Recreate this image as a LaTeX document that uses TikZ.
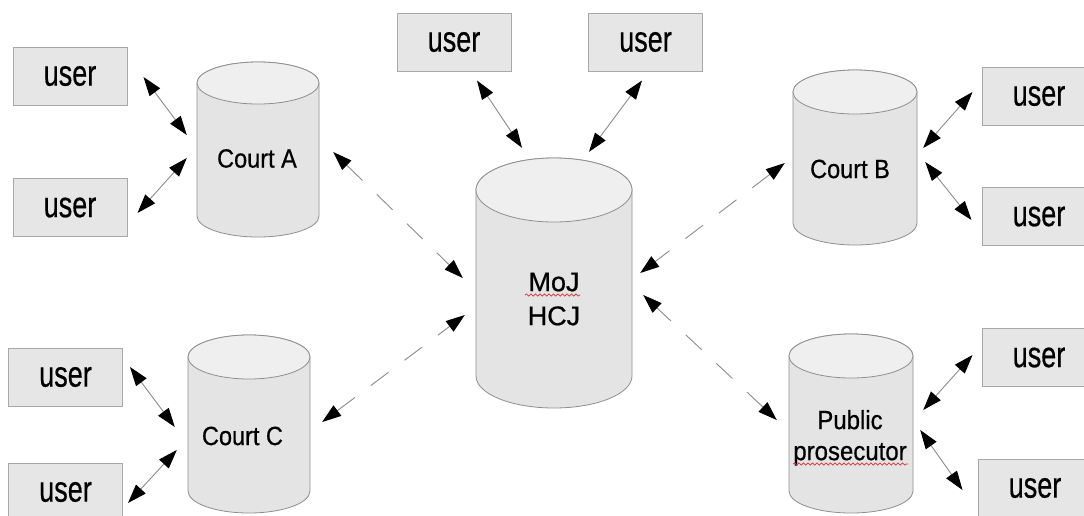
\documentclass[tikz,border=0pt]{standalone}
\usepackage{graphicx}
\usepackage{fontspec}
\setmainfont[FakeBold=0.6]{Liberation Sans}
\usetikzlibrary{arrows.meta,decorations.pathmorphing}
\definecolor{boxfill}{HTML}{E6E6E6}
\definecolor{boxline}{HTML}{A8A8A8}
\definecolor{cylfill}{HTML}{E4E4E4}
\definecolor{cyltopfill}{HTML}{EFEFEF}
\definecolor{cylline}{HTML}{8F8F8F}
\definecolor{linkgray}{HTML}{8C8C8C}
\definecolor{spellred}{HTML}{E03030}
\newcommand\cylshape[5]{%
  \path[cylbody] ({#1-#4},{#2+#5}) -- ({#1-#4},{#3-#5})
    arc[start angle=180,end angle=360,x radius=#4pt,y radius=#5pt]
    -- ({#1+#4},{#2+#5})
    arc[start angle=0,end angle=180,x radius=#4pt,y radius=#5pt] -- cycle;
  \path[cyltop] (#1,{#2+#5}) ellipse[x radius=#4pt,y radius=#5pt];}
\tikzset{
  userbox/.style={draw=boxline, fill=boxfill, line width=1pt, minimum width=114pt,
    minimum height=58pt, inner sep=0pt, font=\fontsize{27}{32}\selectfont},
  cylarea/.style={draw=none, inner sep=0pt},
  cylbody/.style={fill=cylfill, draw=cylline, line width=0.8pt},
  cyltop/.style={fill=cyltopfill, draw=cylline, line width=0.8pt},
  cyllabel/.style={inner sep=0pt, font=\fontsize{23.5}{28}\selectfont},
  link/.style={draw=linkgray, line width=0.9pt,
    {Triangle[length=19pt,width=13pt,color=black]}-{Triangle[length=19pt,width=13pt,color=black]}},
  dashlink/.style={link, dash pattern=on 22pt off 20pt},
  spell/.style={draw=spellred, line width=0.7pt, decorate,
    decoration={snake, amplitude=1.1pt, segment length=4.5pt}}
}
\newcommand\ustr{\scalebox{1}[1.35]{user}}
\begin{document}
\begin{tikzpicture}[x=1pt,y=-1pt]
\useasboundingbox (0,0) rectangle (1084,515);
\fill[white] (0,0) rectangle (1084,515);

% cylinders
\cylshape{258}{62}{237}{61}{21}
\cylshape{554}{158}{408}{78}{32}
\cylshape{855}{70}{245}{62}{22}
\cylshape{249}{335}{513}{61}{22}
\cylshape{851}{334}{513}{62}{22}

% cylinder areas (for connectors)
\node[cylarea, minimum width=122pt, minimum height=175pt] (courtA) at (258,149.5) {};
\node[cylarea, minimum width=156pt, minimum height=250pt] (moj) at (554,283) {};
\node[cylarea, minimum width=124pt, minimum height=175pt] (courtB) at (855,157.5) {};
\node[cylarea, minimum width=122pt, minimum height=178pt] (courtC) at (249,424) {};
\node[cylarea, minimum width=124pt, minimum height=179pt] (pp) at (851,423.5) {};

% labels
\node[cyllabel] (courtAlbl) at (257,158.5) {\scalebox{1}[1.12]{Court A}};
\node[cyllabel] (courtBlbl) at (850,169) {\scalebox{1}[1.12]{Court B}};
\node[cyllabel] (courtClbl) at (242.5,436) {\scalebox{1}[1.12]{Court C}};
\node[inner sep=0pt, align=center, font=\fontsize{27}{34}\selectfont] (mojlbl) at (554,299) {MoJ\\HCJ};
\node[inner sep=0pt, align=center, font=\fontsize{24}{31}\selectfont] (pplbl) at (850,437.8)
  {\scalebox{1}[1.1]{Public}\\\scalebox{1}[1.1]{prosecutor}};
\draw[spell] (525,295) -- (580,295);
\draw[spell] (793,464) -- (908,464);

% users
\node[userbox] (uA1) at (70,76) {\ustr};
\node[userbox] (uA2) at (70,207.5) {\ustr};
\node[userbox] (uC1) at (65.5,377) {\ustr};
\node[userbox] (uC2) at (65.5,492) {\ustr};
\node[userbox] (uT1) at (454,42) {\ustr};
\node[userbox] (uT2) at (645.5,42) {\ustr};
\node[userbox] (uB1) at (1039,96) {\ustr};
\node[userbox] (uB2) at (1039,216.5) {\ustr};
\node[userbox] (uP1) at (1039,357.5) {\ustr};
\node[userbox] (uP2) at (1035,488) {\ustr};

% user links
\draw[link] ([shift={(16,1)}]uA1.east) -- ([shift={(-10,-14.5)}]courtA.west);
\draw[link] ([shift={(10,5.5)}]uA2.east) -- ([shift={(-10,8.5)}]courtA.west);
\draw[link] ([shift={(7,-10)}]uC1.east) -- ([shift={(-13,3)}]courtC.west);
\draw[link] ([shift={(5,11)}]uC2.east) -- ([shift={(-11,26)}]courtC.west);
\draw[link] ([shift={(23,9)}]uT1.south) -- ([shift={(-32,-10)}]moj.north);
\draw[link] ([shift={(-3.5,9)}]uT2.south) -- ([shift={(35,-6)}]moj.north);
\draw[link] ([shift={(-9,-4)}]uB1.west) -- ([shift={(6,-9.5)}]courtB.east);
\draw[link] ([shift={(-10,3.5)}]uB2.west) -- ([shift={(8,4.5)}]courtB.east);
\draw[link] ([shift={(-9,-2.5)}]uP1.west) -- ([shift={(10,-13.5)}]pp.east);
\draw[link] ([shift={(-15,2)}]uP2.west) -- ([shift={(7,6.5)}]pp.east);

% dashed links to MoJ / HCJ
\draw[dashlink] ([shift={(14,2.5)}]courtA.east) -- ([shift={(-13,-5)}]moj.west);
\draw[dashlink] ([shift={(12,-2)}]courtC.east) -- ([shift={(-11,32)}]moj.west);
\draw[dashlink] ([shift={(-8,5.5)}]courtB.west) -- ([shift={(8,-10)}]moj.east);
\draw[dashlink] ([shift={(-12,-3.5)}]pp.west) -- ([shift={(11,12)}]moj.east);
\end{tikzpicture}
\end{document}
